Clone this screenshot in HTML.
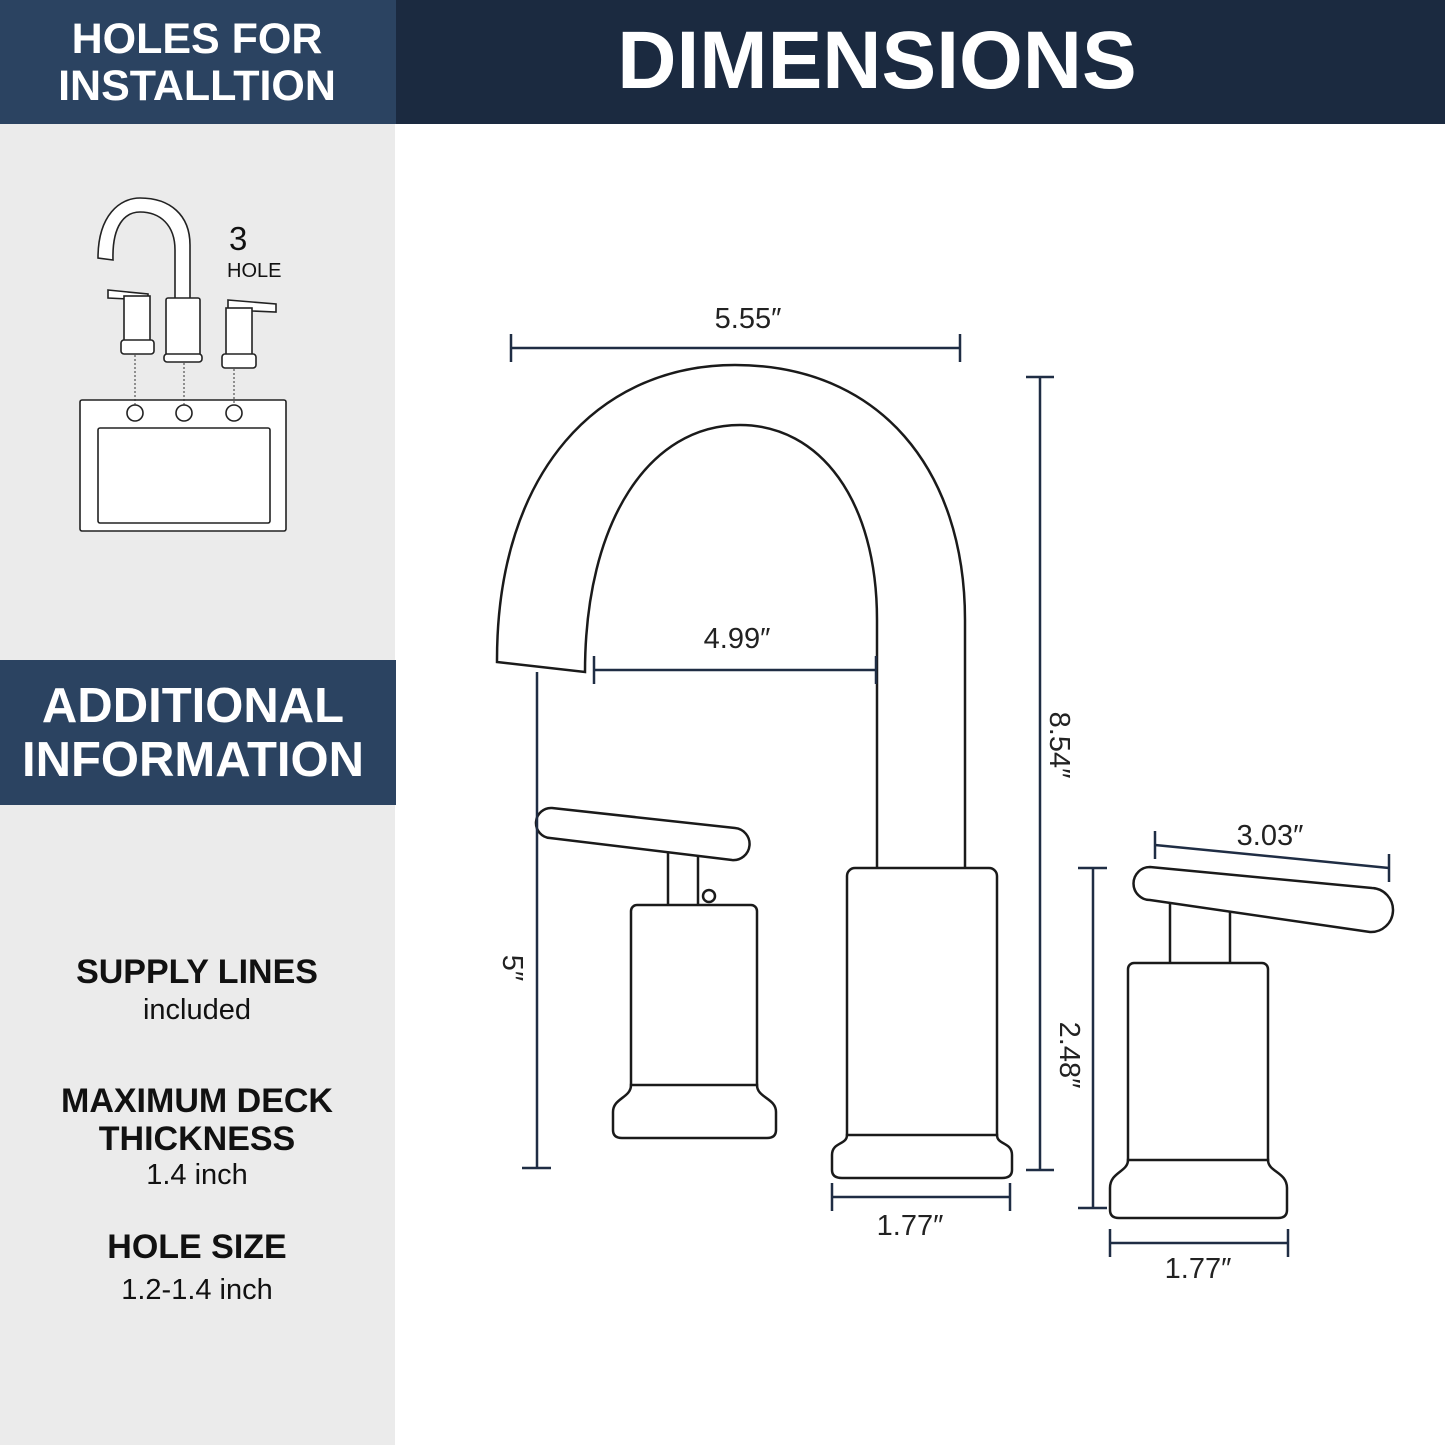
<!DOCTYPE html>
<html><head><meta charset="utf-8"><style>
body{margin:0;width:1445px;height:1445px;overflow:hidden;background:#fff;font-family:"Liberation Sans",Arial,sans-serif}
</style></head><body>
<svg width="1445" height="1445" viewBox="0 0 1445 1445" xmlns="http://www.w3.org/2000/svg" font-family="Liberation Sans, Arial, sans-serif">
<rect x="0" y="0" width="1445" height="1445" fill="#fff"/>
<rect x="0" y="124" width="395" height="1321" fill="#ebebeb"/>
<rect x="0" y="0" width="396" height="124" fill="#2b4361"/>
<rect x="396" y="0" width="1049" height="124" fill="#1b2a40"/>
<text x="197" y="53" text-anchor="middle" fill="#fff" font-weight="bold" font-size="43">HOLES FOR</text>
<text x="197" y="100" text-anchor="middle" fill="#fff" font-weight="bold" font-size="43">INSTALLTION</text>
<text x="877" y="88" text-anchor="middle" fill="#fff" font-weight="bold" font-size="82">DIMENSIONS</text>
<rect x="0" y="660" width="396" height="145" fill="#2b4361"/>
<text x="193" y="722" text-anchor="middle" fill="#fff" font-weight="bold" font-size="49">ADDITIONAL</text>
<text x="193" y="776" text-anchor="middle" fill="#fff" font-weight="bold" font-size="49">INFORMATION</text>
<g text-anchor="middle" fill="#111">
<text x="197" y="983" font-weight="bold" font-size="34">SUPPLY LINES</text>
<text x="197" y="1019" font-size="29">included</text>
<text x="197" y="1112" font-weight="bold" font-size="34">MAXIMUM DECK</text>
<text x="197" y="1150" font-weight="bold" font-size="34">THICKNESS</text>
<text x="197" y="1184" font-size="29">1.4 inch</text>
<text x="197" y="1258" font-weight="bold" font-size="34">HOLE SIZE</text>
<text x="197" y="1299" font-size="29">1.2-1.4 inch</text>
</g>
<!-- small icon -->
<g fill="#fff" stroke="#222" stroke-width="1.6">
<path d="M98,258 C98,215 120,198 140,198 C170,198 190,215 190,245 L190,300 L175,300 L175,250 C175,225 160,212 140,212 C125,212 112,225 113,260 Z"/>
<rect x="166" y="298" width="34" height="58" rx="2"/>
<rect x="164" y="354" width="38" height="8" rx="3"/>
<path d="M108,290 L148,294 L148,300 L108,298 Z"/>
<rect x="124" y="296" width="26" height="46"/><rect x="121" y="340" width="33" height="14" rx="3"/>
<path d="M228,300 L276,304 L276,312 L228,310 Z"/>
<rect x="226" y="308" width="26" height="48"/><rect x="222" y="354" width="34" height="14" rx="3"/>
<rect x="80" y="400" width="206" height="131" rx="2"/>
<rect x="98" y="428" width="172" height="95" rx="2"/>
<circle cx="135" cy="413" r="8"/><circle cx="184" cy="413" r="8"/><circle cx="234" cy="413" r="8"/>
</g>
<g stroke="#333" stroke-width="1" stroke-dasharray="2,2"><line x1="135" y1="355" x2="135" y2="405"/><line x1="184" y1="363" x2="184" y2="405"/><line x1="234" y1="369" x2="234" y2="405"/></g>
<text x="229" y="250" font-size="33" fill="#111">3</text>
<text x="227" y="277" font-size="20" fill="#111">HOLE</text>
<!-- main faucet -->
<g fill="#fff" stroke="#1a1a1a" stroke-width="2.5">
<path d="M497,660 C497,470 600,365 735,365 C880,365 965,470 965,620 L965,872 L877,872 L877,620 C877,500 820,425 740,425 C650,425 585,520 585,672 L497,662 Z"/>
<rect x="847" y="868" width="150" height="280" rx="8"/>
<path d="M847,1135 C847,1145 832,1142 832,1155 L832,1170 Q832,1178 842,1178 L1002,1178 Q1012,1178 1012,1170 L1012,1155 C1012,1142 997,1145 997,1135 Z"/>
<rect x="668" y="842" width="30" height="75" rx="4"/>
<path d="M552,808 L735,828 A14,14 0 0 1 732,860 L550,838 A15,15 0 0 1 552,808 Z"/>
<rect x="631" y="905" width="126" height="192" rx="6"/>
<path d="M631,1085 C631,1098 613,1098 613,1112 L613,1130 Q613,1138 622,1138 L767,1138 Q776,1138 776,1130 L776,1112 C776,1098 757,1098 757,1085 Z"/>
<circle cx="709" cy="896" r="6"/>
<rect x="1170" y="893" width="60" height="78" rx="4"/>
<path d="M1150,867 L1372,888 A14,14 0 0 1 1370,932 L1150,900 A16,16 0 0 1 1150,867 Z"/>
<rect x="1128" y="963" width="140" height="210" rx="6"/>
<path d="M1128,1160 C1128,1172 1110,1172 1110,1188 L1110,1210 Q1110,1218 1119,1218 L1278,1218 Q1287,1218 1287,1210 L1287,1188 C1287,1172 1268,1172 1268,1160 Z"/>
</g>
<!-- dimensions -->
<g stroke="#1f2d44" stroke-width="2.5" fill="none">
<line x1="511" y1="348" x2="960" y2="348"/><line x1="511" y1="334" x2="511" y2="362"/><line x1="960" y1="334" x2="960" y2="362"/>
<line x1="594" y1="670" x2="876" y2="670"/><line x1="594" y1="656" x2="594" y2="684"/><line x1="876" y1="656" x2="876" y2="684"/>
<line x1="1040" y1="377" x2="1040" y2="1170"/><line x1="1026" y1="377" x2="1054" y2="377"/><line x1="1026" y1="1170" x2="1054" y2="1170"/>
<line x1="537" y1="672" x2="537" y2="1168"/><line x1="522" y1="1168" x2="551" y2="1168"/>
<line x1="1093" y1="868" x2="1093" y2="1208"/><line x1="1078" y1="868" x2="1107" y2="868"/><line x1="1078" y1="1208" x2="1107" y2="1208"/>
<line x1="1155" y1="845" x2="1389" y2="868"/><line x1="1155" y1="831" x2="1155" y2="859"/><line x1="1389" y1="854" x2="1389" y2="882"/>
<line x1="832" y1="1197" x2="1010" y2="1197"/><line x1="832" y1="1183" x2="832" y2="1211"/><line x1="1010" y1="1183" x2="1010" y2="1211"/>
<line x1="1110" y1="1243" x2="1288" y2="1243"/><line x1="1110" y1="1229" x2="1110" y2="1257"/><line x1="1288" y1="1229" x2="1288" y2="1257"/>
</g>
<g fill="#222" font-size="29" text-anchor="middle">
<text x="748" y="328">5.55″</text>
<text x="737" y="648">4.99″</text>
<text x="910" y="1235">1.77″</text>
<text x="1198" y="1278">1.77″</text>
<text x="1270" y="845">3.03″</text>
<text transform="translate(1050,745) rotate(90)">8.54″</text>
<text transform="translate(503,968) rotate(90)">5″</text>
<text transform="translate(1060,1055) rotate(90)">2.48″</text>
</g>
</svg>
</body></html>
